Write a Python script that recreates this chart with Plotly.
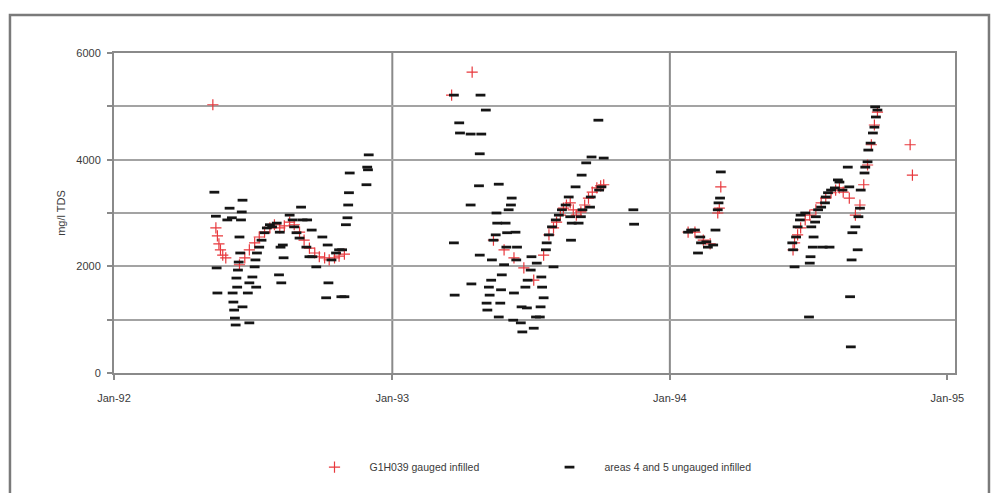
import pandas as pd
import plotly.graph_objects as go

START = pd.Timestamp("1992-01-01")

# G1H039 gauged (infilled): sample day counted from 1 Jan 1992, TDS in mg/l
gauged_day = [
    130, 134, 136, 138, 140, 143, 147, 165, 172, 178, 185, 191, 198, 205, 211,
    218, 224, 231, 237, 244, 250, 257, 264, 270, 277, 283, 290, 296, 303,
    444, 471, 499, 513, 526, 539, 552, 565, 572, 578, 582, 587, 591, 595, 600,
    604, 608, 614, 619, 624, 629, 635, 640, 644,
    755, 764, 775, 784, 794, 796, 798,
    893, 895, 899, 903, 909, 915, 923, 930, 936, 943, 949, 954, 959, 967, 975,
    981, 986, 991, 996, 1000, 1004, 1047, 1050,
]
gauged_tds = [
    5030, 2720, 2570, 2420, 2310, 2210, 2160, 2030, 2160, 2310, 2440, 2550, 2640, 2720, 2780,
    2720, 2760, 2830, 2780, 2640, 2490, 2340, 2250, 2180, 2160, 2120, 2160, 2190, 2230,
    5210, 5640, 2490, 2310, 2160, 1970, 1740, 2210, 2590, 2720, 2830, 2960, 3090, 3150, 3190,
    3060, 2960, 3020, 3150, 3280, 3390, 3470, 3510, 3530,
    2640, 2640, 2490, 2420, 3000, 3090, 3490,
    2310, 2440, 2590, 2720, 2870, 2960, 3060, 3190, 3280, 3380, 3430, 3470, 3390, 3280, 2960,
    3150, 3530, 3900, 4280, 4650, 4890, 4280, 3710,
]

# areas 4 and 5 ungauged (infilled): sample day counted from 1 Jan 1992, TDS in mg/l
ungauged_day = [
    132, 134, 135, 136, 149, 152, 155, 156, 157, 158, 159, 160, 161, 162, 163,
    164, 165, 166, 167, 168, 169, 169, 176, 178, 178, 182, 185, 186, 187, 188,
    191, 194, 198, 201, 205, 208, 214, 217, 218, 219, 220, 222, 223, 231, 235,
    237, 240, 244, 246, 248, 253, 254, 257, 260, 261, 266, 274, 279, 281, 282,
    286, 292, 296, 299, 300, 303, 305, 307, 308, 309, 310, 332, 333, 334, 335,
    447, 447, 448, 454, 455, 469, 469, 470, 480, 481, 481, 482, 483, 489, 490,
    491, 493, 494, 496, 497, 499, 502, 503, 504, 506, 506, 508, 509, 510, 513,
    515, 516, 517, 519, 522, 523, 525, 526, 528, 529, 530, 535, 536, 537, 541,
    543, 544, 548, 549, 552, 555, 556, 560, 561, 562, 563, 565, 568, 569, 572,
    576, 578, 581, 585, 589, 594, 598, 600, 601, 602, 607, 611, 614, 615, 616,
    621, 626, 627, 628, 637, 638, 641, 644, 683, 684,
    755, 759, 764, 768, 771, 772, 779, 781, 788, 791, 794, 795, 797, 798,
    892, 893, 895, 897, 899, 902, 903, 909, 914, 915, 916, 917, 919, 920, 922,
    923, 926, 930, 932, 935, 936, 939, 941, 943, 948, 952, 954, 958, 965, 967,
    968, 969, 970, 971, 975, 978, 979, 981, 982, 987, 988, 991, 992, 995, 998,
    1000, 1001, 1002, 1004,
]
ungauged_tds = [
    3390, 2940, 1970, 1500, 2870, 3090, 2910, 1500, 1330, 1180, 1030, 900, 1780, 1610, 1930,
    2080, 2550, 2250, 2870, 3020, 3240, 1240, 1500, 940, 1690, 1800, 1990, 2120, 1610, 2250,
    2360, 2490, 2630, 2720, 2780, 2740, 2810, 1840, 2640, 2360, 1690, 2400, 2160, 2960, 2870,
    2740, 2630, 2530, 3110, 2870, 2360, 2870, 2180, 2680, 2180, 1990, 2550, 1410, 2400, 1690,
    2120, 2250, 2310, 1430, 2310, 1430, 2780, 2910, 3150, 3380, 3750, 3530, 3860, 3810, 4090,
    5210, 2440, 1460, 4690, 4500, 4480, 3150, 1670, 3510, 4110, 2210, 5210, 4480, 4930, 1310,
    1180, 1610, 1460, 1740, 2120, 2490, 2590, 3000, 2810, 3540, 1050, 1310, 1560, 1840, 2030,
    2810, 2360, 2630, 3060, 3150, 3280, 990, 1500, 2640, 2120, 2360, 940, 1240, 770, 1610,
    1220, 1740, 1930, 2180, 840, 1050, 2060, 1050, 1240, 1800, 1610, 1410, 2310, 2440, 2590,
    2740, 1990, 2870, 2960, 3060, 3150, 3300, 2930, 2490, 2810, 3490, 2810, 2930, 3710, 3060,
    3940, 3110, 3300, 4050, 4740, 3430, 3490, 4030, 3060, 2790,
    2640, 2680, 2680, 2250, 2550, 2440, 2460, 2360, 2400, 2680, 3060, 3190, 3280, 3770,
    2440, 2310, 1990, 2550, 2740, 2870, 2960, 3000, 1050, 2060, 2180, 2740, 2360, 2550, 2830,
    2930, 3060, 3110, 2360, 3190, 3300, 3380, 2360, 3430, 3470, 3620, 3580, 3430, 3860, 3490,
    1430, 490, 2120, 2630, 2740, 2310, 2930, 3090, 3430, 3750, 3860, 3960, 4180, 4310, 4500,
    4610, 4990, 4800, 4930,
]

x_tick_dates = ["1992-01-01", "1993-01-01", "1994-01-01", "1995-01-01"]
x_tick_text = ["Jan-92", "Jan-93", "Jan-94", "Jan-95"]
year_lines = ["1993-01-01", "1994-01-01"]
y_tick_vals = [0, 1000, 2000, 3000, 4000, 5000, 6000]
y_tick_text = ["0", "", "2000", "", "4000", "", "6000"]


def to_dates(days):
    return START + pd.to_timedelta(days, unit="D")


gauged = pd.DataFrame({"date": to_dates(gauged_day), "tds": gauged_tds}).sort_values("date")
ungauged = pd.DataFrame({"date": to_dates(ungauged_day), "tds": ungauged_tds}).sort_values("date")

FONT = "Liberation Sans, Arial, sans-serif"
AXIS_GREY = "#8a8a8a"
TEXT = "#3a3a3a"

fig = go.Figure()
fig.add_trace(go.Scatter(
    x=gauged["date"], y=gauged["tds"], mode="markers",
    name="G1H039 gauged infilled",
    marker=dict(symbol="cross-thin", size=8, line=dict(color="#e8383d", width=1.2)),
))
fig.add_trace(go.Scatter(
    x=ungauged["date"], y=ungauged["tds"], mode="markers",
    name="areas 4 and 5 ungauged infilled",
    marker=dict(symbol="line-ew", size=7, color="#151515", line=dict(color="#151515", width=2.8)),
))

# vertical year separators (Jan-93, Jan-94)
for d in year_lines:
    fig.add_shape(type="line", xref="x", yref="paper", x0=d, x1=d, y0=0, y1=1,
                  line=dict(color=AXIS_GREY, width=2), layer="below")

# outer chart frame
fig.add_shape(type="rect", xref="paper", yref="paper",
              x0=-0.1237, x1=1.0404, y0=-0.40, y1=1.119,
              line=dict(color="#7a7a7a", width=2.5), fillcolor="rgba(0,0,0,0)")

fig.update_layout(
    width=998, height=493,
    margin=dict(l=114, r=43, t=53, b=120),
    paper_bgcolor="white", plot_bgcolor="white",
    font=dict(family=FONT, size=10.5, color=TEXT),
    showlegend=True,
    legend=dict(orientation="h", x=0.5, xanchor="center", y=-0.294, yanchor="middle",
                font=dict(size=10.5, color=TEXT), bgcolor="rgba(0,0,0,0)",
                entrywidth=160, itemwidth=60),
    xaxis=dict(
        type="date", range=["1992-01-01", "1995-01-11"],
        tickvals=x_tick_dates, ticktext=x_tick_text,
        showgrid=False, zeroline=False,
        showline=True, mirror=True, linecolor=AXIS_GREY, linewidth=2,
        ticks="outside", ticklen=5, tickcolor=AXIS_GREY, tickwidth=1.5,
        ticklabelstandoff=9,
        tickfont=dict(size=11, color=TEXT),
    ),
    yaxis=dict(
        range=[0, 6000],
        tickvals=y_tick_vals, ticktext=y_tick_text,
        showgrid=True, gridcolor="#a3a3a3", gridwidth=1.5, zeroline=False,
        showline=True, mirror=True, linecolor=AXIS_GREY, linewidth=2,
        ticks="outside", ticklen=5, tickcolor=AXIS_GREY, tickwidth=1.5,
        ticklabelstandoff=4,
        tickfont=dict(size=11, color=TEXT),
        title=dict(text="mg/l TDS", font=dict(size=11, color=TEXT), standoff=8),
    ),
)

fig.write_html("out.html")
